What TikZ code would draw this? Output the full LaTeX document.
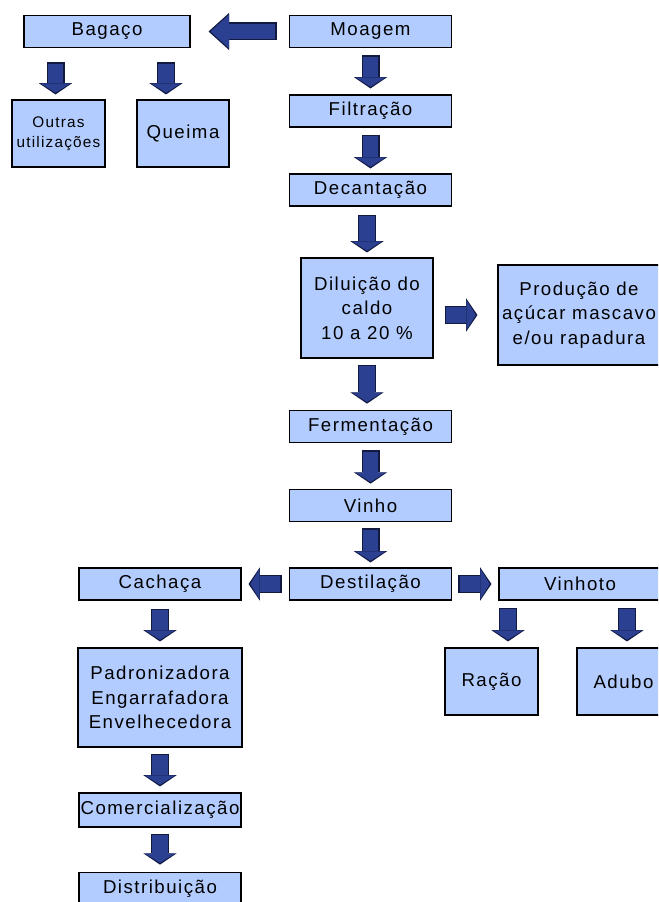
\documentclass[tikz,border=0pt]{standalone}
\usepackage{fontspec}
\setmainfont{Liberation Sans}[LetterSpace=8]
\usepackage{tikz}
\usetikzlibrary{arrows.meta}

\definecolor{boxblue}{RGB}{179,204,255}
\definecolor{arrblue}{RGB}{43,64,145}
\definecolor{arrline}{RGB}{18,26,66}

\tikzset{
  box/.style={draw=black, line width=0.8pt, fill=boxblue, inner sep=0pt, align=center,
    minimum width=122pt, minimum height=24.5pt, font=\fontsize{14}{18.5}\selectfont},
  % block arrows: #1 = gap at the start, #2 = gap at the tip
  arr/.style 2 args={draw=arrline, line width=13.5pt, shorten <=#1, shorten >=#2,
    -{Triangle[width=25pt,length=8.5pt,line width=0pt]},
    postaction={draw=arrblue, line width=11.5pt, shorten <=#1+1pt, shorten >=#2+1.3pt,
      -{Triangle[width=22.5pt,length=7pt,line width=0pt]}}},
  bigarr/.style 2 args={draw=arrline, line width=13.5pt, shorten <=#1, shorten >=#2,
    -{Triangle[width=28pt,length=15.5pt,line width=0pt]},
    postaction={draw=arrblue, line width=11.5pt, shorten <=#1+1pt, shorten >=#2+1.5pt,
      -{Triangle[width=25.5pt,length=14pt,line width=0pt]}}},
}

\begin{document}
\begin{tikzpicture}[x=0.75pt, y=-0.75pt]
    \clip (0,0) rectangle (658,902);

    \node[box, minimum width=124.5pt] (bag) at (107,31.5) {Bagaço};
    \node[box] (moag) at (370.5,31.5) {Moagem};
    \node[box, minimum width=69.75pt, minimum height=50.25pt, font=\fontsize{11.5}{15}\selectfont]
        (outr) at (58.5,133.5) {Outras\\utilizações};
    \node[box, minimum width=69pt, minimum height=50.25pt] (queim) at (183,133.5) {Queima};
    \node[box, minimum height=24pt] (filt) at (370.5,111) {Filtração};
    \node[box, minimum height=24pt] (decant) at (370.5,190) {Decantação};
    \node[box, minimum width=99pt, minimum height=75pt] (dil) at (367,308) {Diluição do\\caldo\\10 a 20 \%};
    \node[box, minimum width=121.5pt, minimum height=75pt] (prod) at (579,315)
        {Produção de\\açúcar mascavo\\e/ou rapadura};
    \node[box] (ferm) at (370.5,426.5) {Fermentação};
    \node[box] (vinho) at (370.5,505.5) {Vinho};
    \node[box, minimum height=24pt] (dest) at (370.5,584) {Destilação};
    \node[box, minimum width=121.5pt, minimum height=24pt] (cach) at (160,584) {Cachaça};
    \node[box, minimum width=121.5pt, minimum height=24pt] (vinhoto) at (580,584) {Vinhoto};
    \node[box, minimum width=69.75pt, minimum height=50.25pt] (racao) at (491.5,681.5) {Ração};
    \node[box, minimum width=69.75pt, minimum height=50.25pt] (adubo) at (623.5,681.5) {Adubo};
    \node[box, minimum width=123pt, minimum height=74.25pt] (padr) at (160,697.5)
        {Padronizadora\\Engarrafadora\\Envelhecedora};
    \node[box, minimum width=121.5pt, minimum height=25.5pt] (comerc) at (160,810) {Comercialização};
    \node[box, minimum width=121.5pt] (distr) at (160,888.5) {Distribuição};

    % Moagem -> Bagaco
    \draw[bigarr={9pt}{13.5pt}] (moag.west) -- (bag.east);

    % Bagaco -> Outras / Queima
    \draw[arr={10.5pt}{3.75pt}] ([xshift=-2.25pt]outr.north |- bag.south) -- ([xshift=-2.25pt]outr.north);
    \draw[arr={10.5pt}{3.75pt}] ([xshift=-12.75pt]queim.north |- bag.south) -- ([xshift=-12.75pt]queim.north);

    % main line
    \draw[arr={5.25pt}{4.5pt}] (moag.south) -- (filt.north);
    \draw[arr={5.25pt}{3.75pt}] (filt.south) -- (decant.north);
    \draw[arr={6pt}{3.75pt}] (decant.south -| dil.north) -- (dil.north);
    \draw[arr={4.5pt}{4.5pt}] (dil.south) -- (dil.south |- ferm.north);
    \draw[arr={5.25pt}{3.75pt}] (ferm.south) -- (vinho.north);
    \draw[arr={4.5pt}{3.75pt}] (vinho.south) -- (dest.north);

    % Diluicao -> Producao
    \draw[arr={8.25pt}{15pt}] (dil.east |- prod.west) -- (prod.west);

    % Destilacao -> Cachaca / Vinhoto
    \draw[arr={5.25pt}{5.25pt}] (dest.west) -- (cach.east);
    \draw[arr={4.5pt}{5.25pt}] (dest.east) -- (vinhoto.west);

    % Vinhoto -> Racao / Adubo
    \draw[arr={5.25pt}{4.5pt}] ([xshift=12.4pt]racao.north |- vinhoto.south) -- ([xshift=12.4pt]racao.north);
    \draw[arr={5.25pt}{4.5pt}] ([xshift=2.6pt]adubo.north |- vinhoto.south) -- ([xshift=2.6pt]adubo.north);

    % Cachaca -> ... -> Distribuicao
    \draw[arr={6pt}{4.5pt}] (cach.south) -- (padr.north);
    \draw[arr={4.5pt}{4.5pt}] (padr.south) -- (comerc.north);
    \draw[arr={4.5pt}{5.25pt}] (comerc.south) -- (distr.north);
\end{tikzpicture}
\end{document}
